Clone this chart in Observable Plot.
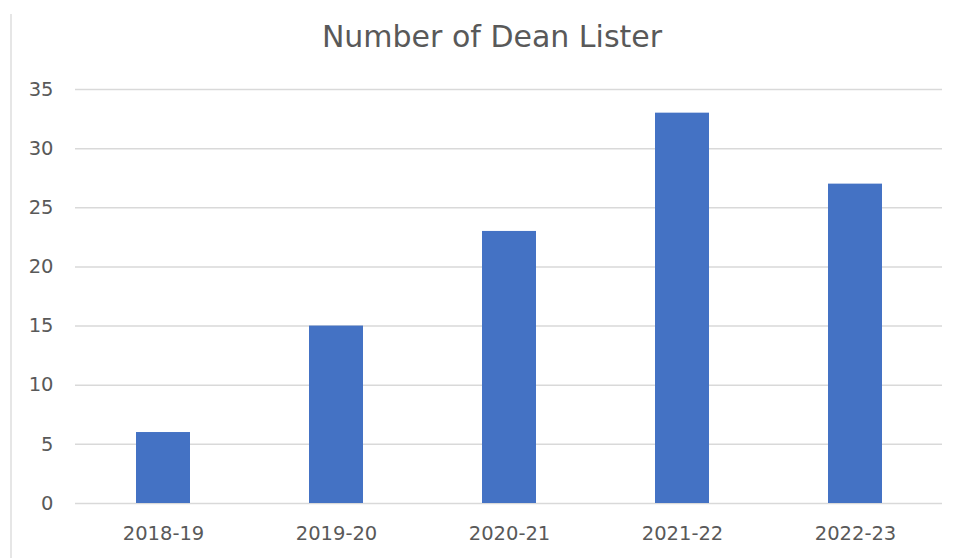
<!DOCTYPE html>
<html>
<head>
<meta charset="utf-8">
<script src="https://cdn.jsdelivr.net/npm/d3@7"></script>
<script src="https://cdn.jsdelivr.net/npm/@observablehq/plot@0.6"></script>
<style>
  body { margin: 0; background: #fff; }
  #wrap { position: relative; width: 960px; height: 558px; overflow: hidden; background: #fff; }
  #frame { position: absolute; left: 10px; top: 14px; width: 2px; height: 560px; background: #e6e6e6; z-index: 2; }
  #title { position: absolute; left: 12px; top: 5px; width: 960px; height: 64px; text-align: center;
           font-family: "DejaVu Sans", sans-serif; font-size: 30px; color: #595959; line-height: 64px; z-index: 2; }
  #chart { position: absolute; left: 0; top: 64px; z-index: 1; }
</style>
</head>
<body>
<div id="wrap">
  <div id="chart"></div>
  <div id="frame"></div>
  <div id="title">Number of Dean Lister</div>
</div>
<script>
const years = ["2018-19", "2019-20", "2020-21", "2021-22", "2022-23"];
const counts = [6, 15, 23, 33, 27];
const yTicks = [0, 5, 10, 15, 20, 25, 30, 35];

const data = years.map((y, i) => ({year: y, count: counts[i]}));

const chart = Plot.plot({
  width: 960,
  height: 494,
  marginTop: 25,
  marginBottom: 55,
  marginLeft: 75,
  marginRight: 18,
  style: {fontFamily: "DejaVu Sans, sans-serif", fontSize: "19.5px", color: "#595959", background: "transparent"},
  x: {domain: years, paddingInner: 0.688, paddingOuter: 0.344, label: null},
  y: {domain: [0, 35], ticks: yTicks, label: null},
  marks: [
    Plot.ruleY(yTicks, {stroke: "#d9d9d9", strokeWidth: 1.5}),
    Plot.barY(data, {x: "year", y: "count", fill: "#4472C4"}),
    Plot.axisX({tickSize: 0, tickPadding: 23, fontSize: 19.5, label: null}),
    Plot.axisY({ticks: yTicks, tickSize: 0, tickPadding: 22, fontSize: 19.5, label: null})
  ]
});
document.getElementById("chart").appendChild(chart);
</script>
</body>
</html>
